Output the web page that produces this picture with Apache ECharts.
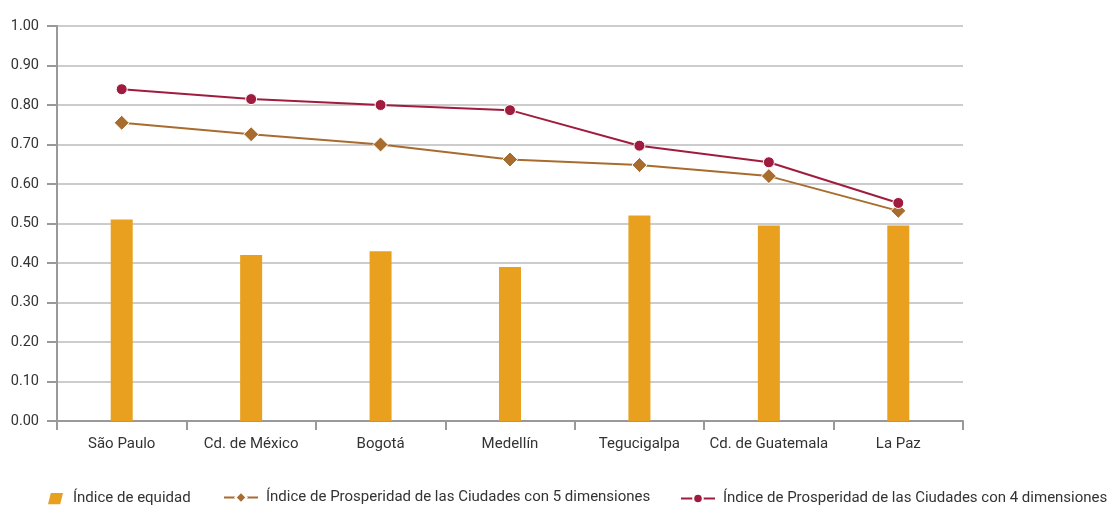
<!DOCTYPE html>
<html>
<head>
<meta charset="utf-8">
<script src="https://cdn.jsdelivr.net/npm/echarts@6/dist/echarts.min.js"></script>
<style>
html,body{margin:0;padding:0;background:#fff;}
#c{width:1111px;height:509px;}
</style>
</head>
<body>
<div id="c"></div>
<script>
var categories = ['São Paulo', 'Cd. de México', 'Bogotá', 'Medellín', 'Tegucigalpa', 'Cd. de Guatemala', 'La Paz'];
var equidad = [0.51, 0.42, 0.43, 0.39, 0.52, 0.495, 0.495];
var cpi5 = [0.755, 0.726, 0.70, 0.662, 0.648, 0.62, 0.532];
var cpi4 = [0.84, 0.815, 0.80, 0.787, 0.697, 0.655, 0.552];
var names = ['Índice de equidad', 'Índice de Prosperidad de las Ciudades con 5 dimensiones', 'Índice de Prosperidad de las Ciudades con 4 dimensiones'];

var FONT = 'Roboto, "Noto Sans", sans-serif';
var chart = echarts.init(document.getElementById('c'), null, {renderer: 'canvas'});
var legendText = {fontFamily: FONT, fontSize: 15, color: '#333', padding: [0, 0, 0, 3]};
chart.setOption({
  animation: false,
  textStyle: {fontFamily: FONT},
  grid: {left: 57, right: 148, top: 26, bottom: 88},
  legend: [
    {data: [{name: names[0], icon: 'path://M3,0 L16,0 L13,12 L0,12 Z'}], left: 43, top: 486, itemWidth: 15, itemHeight: 12, textStyle: {fontFamily: FONT, fontSize: 15, color: '#333', padding: [0, 0, 0, 5]}},
    {data: [names[1]], left: 218, top: 485, itemWidth: 34, itemHeight: 14, textStyle: legendText},
    {data: [names[2]], left: 675, top: 486, itemWidth: 34, itemHeight: 12, textStyle: legendText}
  ],
  xAxis: {
    type: 'category',
    data: categories,
    axisLine: {lineStyle: {color: '#999', width: 2}},
    axisTick: {show: true, length: 9, lineStyle: {color: '#999', width: 2}},
    axisLabel: {fontFamily: FONT, fontSize: 15, color: '#333', margin: 16, interval: 0}
  },
  yAxis: {
    type: 'value',
    min: 0, max: 1, interval: 0.1,
    axisLine: {show: true, lineStyle: {color: '#999', width: 2}},
    axisTick: {show: true, length: 10, lineStyle: {color: '#999', width: 2}},
    axisLabel: {fontFamily: FONT, fontSize: 14.5, color: '#333', margin: 18, formatter: function (v) { return v.toFixed(2); }},
    splitLine: {lineStyle: {color: '#cccccc', width: 2}}
  },
  series: [
    {name: names[0], type: 'bar', data: equidad, barWidth: 22, itemStyle: {color: '#E9A01E'}},
    {name: names[1], type: 'line', data: cpi5, symbol: 'diamond', symbolSize: 15,
      lineStyle: {color: '#A86C2E', width: 2}, itemStyle: {color: '#A86C2E', borderColor: '#fff', borderWidth: 1}},
    {name: names[2], type: 'line', data: cpi4, symbol: 'circle', symbolSize: 11,
      lineStyle: {color: '#A01C3F', width: 2}, itemStyle: {color: '#A01C3F', borderColor: '#fff', borderWidth: 1}}
  ]
});
</script>
</body>
</html>
